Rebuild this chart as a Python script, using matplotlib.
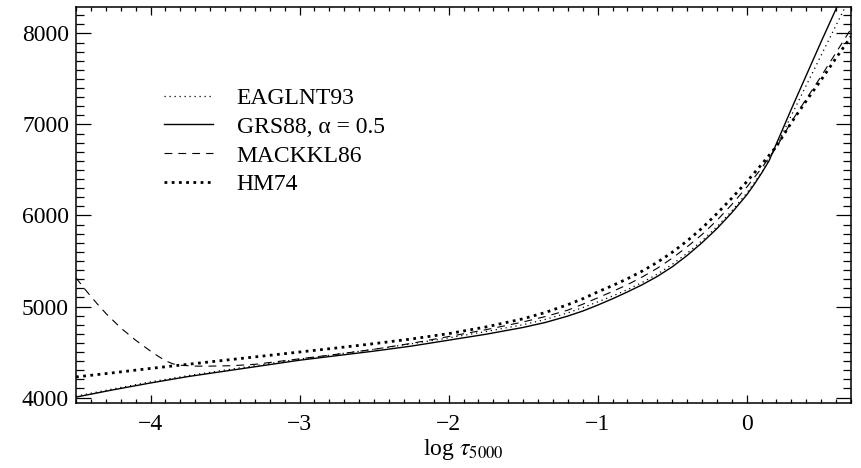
import matplotlib
matplotlib.use("Agg")
import matplotlib.pyplot as plt
from matplotlib.ticker import MultipleLocator

plt.rcParams['font.family'] = ['Liberation Serif', 'DejaVu Serif']
plt.rcParams['mathtext.fontset'] = 'stix'

# ---- data (log tau_5000, temperature K) ----
grs_x = [-4.5, -4.25, -4.0, -3.75, -3.5, -3.25, -3.0, -2.75, -2.5, -2.25, -2.0, -1.75, -1.5, -1.35,
         -1.2, -1.1, -1.0, -0.9, -0.8, -0.7, -0.6, -0.5, -0.4, -0.3, -0.2, -0.1, 0.0, 0.05, 0.1,
         0.15, 0.2, 0.3, 0.4, 0.5, 0.6, 0.65]
grs_t = [4005, 4085, 4160, 4230, 4290, 4350, 4410, 4460, 4510, 4565, 4630, 4695, 4770, 4825,
         4895, 4950, 5015, 5085, 5160, 5240, 5330, 5435, 5560, 5700, 5855, 6030, 6225, 6340, 6465,
         6600, 6790, 7170, 7540, 7910, 8270, 8450]

eag_x = [-4.5, -4.25, -4.0, -3.75, -3.5, -3.25, -3.0, -2.75, -2.5, -2.25, -2.0, -1.75, -1.5, -1.35,
         -1.2, -1.1, -1.0, -0.9, -0.8, -0.7, -0.6, -0.5, -0.4, -0.3, -0.2, -0.1, 0.0, 0.1, 0.2,
         0.3, 0.4, 0.5, 0.6, 0.68]
eag_t = [4015, 4095, 4172, 4240, 4302, 4362, 4422, 4476, 4530, 4590, 4655, 4725, 4800, 4858,
         4930, 4988, 5050, 5115, 5185, 5265, 5355, 5462, 5585, 5722, 5876, 6050, 6245, 6470, 6760,
         7100, 7430, 7760, 8090, 8350]

mac_x = [-4.5, -4.45, -4.4, -4.35, -4.3, -4.2, -4.1, -4.0, -3.95, -3.9, -3.85, -3.8, -3.7, -3.6,
         -3.45, -3.3, -3.0, -2.75, -2.5, -2.25, -2.0, -1.75, -1.5, -1.35, -1.2, -1.1, -1.0, -0.9,
         -0.8, -0.7, -0.6, -0.5, -0.4, -0.3, -0.2, -0.1, 0.0, 0.1, 0.2, 0.3, 0.4, 0.5, 0.6, 0.7]
mac_t = [5315, 5210, 5110, 5015, 4925, 4765, 4630, 4510, 4455, 4405, 4370, 4355, 4345, 4345,
         4350, 4365, 4425, 4475, 4530, 4595, 4670, 4745, 4830, 4890, 4960, 5025, 5095, 5165,
         5240, 5325, 5420, 5530, 5655, 5790, 5945, 6120, 6310, 6520, 6750, 7030, 7280, 7530, 7790, 8050]

hm_x = [-4.5, -4.25, -4.0, -3.75, -3.5, -3.25, -3.0, -2.75, -2.5, -2.25, -2.0, -1.75, -1.5, -1.35,
        -1.2, -1.1, -1.0, -0.9, -0.8, -0.7, -0.6, -0.5, -0.4, -0.3, -0.2, -0.1, 0.0, 0.1, 0.2,
        0.3, 0.4, 0.5, 0.6, 0.7]
hm_t = [4226, 4272, 4320, 4365, 4410, 4455, 4500, 4545, 4592, 4643, 4702, 4775, 4865, 4935,
        5020, 5085, 5160, 5230, 5305, 5390, 5485, 5595, 5720, 5860, 6020, 6190, 6370, 6560, 6760,
        7020, 7260, 7490, 7730, 7965]

labels = ["EAGLNT93", "GRS88, α = 0.5", "MACKKL86", "HM74"]
xticks = [-4, -3, -2, -1, 0]
yticks = [4000, 5000, 6000, 7000, 8000]

fig = plt.figure(figsize=(8.61, 4.68), dpi=100)
ax = fig.add_axes([76/861, 1-403/468, 775/861, 396/468])

ax.plot(eag_x, eag_t, color='black', lw=0.9, linestyle=(0, (1, 3)), label=labels[0])
ax.plot(grs_x, grs_t, color='black', lw=1.0, linestyle='-', label=labels[1])
ax.plot(mac_x, mac_t, color='black', lw=0.8, linestyle=(0, (7, 5.5)), label=labels[2])
ax.plot(hm_x, hm_t, color='black', lw=2.0, linestyle=(0, (1, 1.6)), label=labels[3])

ax.set_xlim(-4.5, 0.7)
ax.set_ylim(3940, 8290)
ax.set_xticks(xticks)
ax.set_xticklabels(['\u2212%d' % abs(v) if v < 0 else '%d' % v for v in xticks])
ax.set_yticks(yticks)
ax.xaxis.set_minor_locator(MultipleLocator(0.1))
ax.yaxis.set_minor_locator(MultipleLocator(100))

ax.tick_params(axis='both', which='both', direction='in', top=True, right=True,
               labelsize=17, width=0.9, colors='black')
ax.tick_params(axis='x', which='major', length=6, pad=8)
ax.tick_params(axis='x', which='minor', length=3)
ax.tick_params(axis='y', which='major', length=11, pad=5)
ax.tick_params(axis='y', which='minor', length=5.5)
for s in ax.spines.values():
    s.set_linewidth(1.1)

ax.set_xlabel(r'log $\tau_{\rm 5000}$', fontsize=17, labelpad=1)

leg = ax.legend(loc='upper left', bbox_to_anchor=(0.113, 0.797), frameon=False,
                fontsize=17, handlelength=2.1, handletextpad=1.0,
                labelspacing=0.31, borderpad=0, borderaxespad=0)

fig.savefig('out.png', dpi=100)
